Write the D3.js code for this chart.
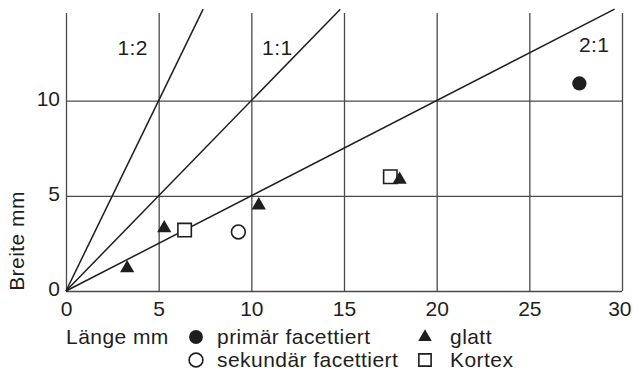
<!DOCTYPE html>
<html>
<head>
<meta charset="utf-8">
<script src="https://cdn.jsdelivr.net/npm/d3@7"></script>
<style>
  html, body { margin: 0; padding: 0; background: #fff; }
  svg { display: block; }
  text { font-family: "Liberation Sans", Arial, Helvetica, sans-serif; fill: #1e1e1e; letter-spacing: 0.45px; }
  .tick text { letter-spacing: 0; }
</style>
</head>
<body>
<svg id="chart" width="633" height="374"></svg>
<script>
// Länge/Breite of the pieces, by surface type
const xTicks = [0, 5, 10, 15, 20, 25, 30];
const yTicks = [0, 5, 10];

const primaerX = [27.7];
const primaerY = [10.9];

const sekundaerX = [9.3];
const sekundaerY = [3.1];

const glattX = [3.3, 5.3, 10.4, 18.0];
const glattY = [1.2, 3.3, 4.5, 5.85];

const kortexX = [6.4, 17.5];
const kortexY = [3.2, 6.0];

// Length:width reference lines (width = ratio * length)
const ratioNames = ["1:2", "1:1", "2:1"];
const ratioSlopes = [2, 1, 0.5];

const legendNames = ["primär facettiert", "sekundär facettiert", "glatt", "Kortex"];

// ---- layout ----
const svg = d3.select("#chart");
const x = d3.scaleLinear().domain([0, 30]).range([66, 622]);
const y = d3.scaleLinear().domain([0, 14.6]).range([291, 13]);
const lineTop = 14.8;
const fontSize = 21;
const ink = "#1e1e1e";
const gridInk = "#4a4a4a";

// vertical grid + x tick labels
const xAxis = svg.append("g")
  .attr("transform", `translate(0,${y(0)})`)
  .call(d3.axisBottom(x).tickValues(xTicks).tickSize(-(y(0) - y(14.6))).tickPadding(10).tickFormat(d3.format("d")));
xAxis.select(".domain").remove();
xAxis.selectAll("line").attr("stroke", gridInk).attr("stroke-width", 1.3);
xAxis.selectAll("text").attr("font-size", fontSize).attr("fill", ink)
  .attr("font-family", "Liberation Sans, Arial, sans-serif").attr("dy", "0.72em");
// keep the last label inside the page edge
xAxis.selectAll(".tick").filter(d => d === 30).select("text")
  .attr("text-anchor", "end").attr("dx", 9);

// horizontal grid + y tick labels
const yAxis = svg.append("g")
  .attr("transform", `translate(${x(0)},0)`)
  .call(d3.axisLeft(y).tickValues(yTicks).tickSize(-(x(30) - x(0))).tickPadding(6).tickFormat(d3.format("d")));
yAxis.select(".domain").remove();
yAxis.selectAll("line").attr("stroke", gridInk).attr("stroke-width", 1.3);
yAxis.selectAll("text").attr("font-size", fontSize).attr("fill", ink)
  .attr("font-family", "Liberation Sans, Arial, sans-serif").attr("dy", "0.22em");

// ratio lines from the origin
const ratioLines = ratioNames.map((name, i) => {
  const s = ratioSlopes[i];
  const xEnd = Math.min(30, lineTop / s);
  return { name, pts: [[0, 0], [xEnd, xEnd * s]] };
});
const line = d3.line().x(d => x(d[0])).y(d => y(d[1]));
svg.append("g").selectAll("path").data(ratioLines).join("path")
  .attr("d", d => line(d.pts))
  .attr("fill", "none").attr("stroke", ink).attr("stroke-width", 1.5);

// ratio labels
const ratioLabelAt = [[3.6, 12.4], [11.4, 12.4], [28.5, 12.55]];
svg.append("g").selectAll("text").data(ratioLines).join("text")
  .attr("x", (d, i) => x(ratioLabelAt[i][0]))
  .attr("y", (d, i) => y(ratioLabelAt[i][1]))
  .attr("text-anchor", "middle").attr("font-size", fontSize)
  .text(d => d.name);

// marker shapes
const sym = {
  primaer: d3.symbol().type(d3.symbolCircle).size(160),
  sekundaer: d3.symbol().type(d3.symbolCircle).size(150),
  glatt: d3.symbol().type(d3.symbolTriangle).size(88),
  kortex: d3.symbol().type(d3.symbolSquare).size(180)
};
const zip = (xs, ys) => xs.map((v, i) => [v, ys[i]]);

const marks = svg.append("g");
marks.selectAll(".kortex").data(zip(kortexX, kortexY)).join("path")
  .attr("class", "kortex")
  .attr("transform", d => `translate(${x(d[0])},${y(d[1])})`)
  .attr("d", sym.kortex()).attr("fill", "#fff").attr("stroke", ink).attr("stroke-width", 1.6);
marks.selectAll(".sek").data(zip(sekundaerX, sekundaerY)).join("path")
  .attr("class", "sek")
  .attr("transform", d => `translate(${x(d[0])},${y(d[1])})`)
  .attr("d", sym.sekundaer()).attr("fill", "#fff").attr("stroke", ink).attr("stroke-width", 1.6);
marks.selectAll(".glatt").data(zip(glattX, glattY)).join("path")
  .attr("class", "glatt")
  .attr("transform", d => `translate(${x(d[0])},${y(d[1])})`)
  .attr("d", sym.glatt()).attr("fill", ink);
marks.selectAll(".prim").data(zip(primaerX, primaerY)).join("path")
  .attr("class", "prim")
  .attr("transform", d => `translate(${x(d[0])},${y(d[1])})`)
  .attr("d", sym.primaer()).attr("fill", ink);

// axis titles
svg.append("text").attr("x", 66).attr("y", 344).attr("font-size", fontSize).text("Länge mm");
svg.append("text")
  .attr("transform", "translate(24,241) rotate(-90)")
  .attr("text-anchor", "middle").attr("font-size", fontSize).text("Breite mm");

// legend: two rows, two columns
const legendRows = [344, 367];
const legendItems = [
  { name: legendNames[0], shape: sym.primaer, fill: ink, stroke: "none", col: 0, row: 0 },
  { name: legendNames[1], shape: sym.sekundaer, fill: "#fff", stroke: ink, col: 0, row: 1 },
  { name: legendNames[2], shape: sym.glatt, fill: ink, stroke: "none", col: 1, row: 0 },
  { name: legendNames[3], shape: sym.kortex, fill: "#fff", stroke: ink, col: 1, row: 1 }
];
const legendCols = [{ mark: 196, text: 217 }, { mark: 425, text: 450 }];
const lg = svg.append("g").selectAll("g").data(legendItems).join("g");
lg.append("path")
  .attr("transform", d => `translate(${legendCols[d.col].mark},${legendRows[d.row] - 7})`)
  .attr("d", d => d.shape.size(d.shape === sym.kortex ? 150 : d.shape === sym.glatt ? 80 : 150)())
  .attr("fill", d => d.fill).attr("stroke", d => d.stroke).attr("stroke-width", 1.6);
lg.append("text")
  .attr("x", d => legendCols[d.col].text)
  .attr("y", d => legendRows[d.row])
  .attr("font-size", fontSize)
  .text(d => d.name);
</script>
</body>
</html>
